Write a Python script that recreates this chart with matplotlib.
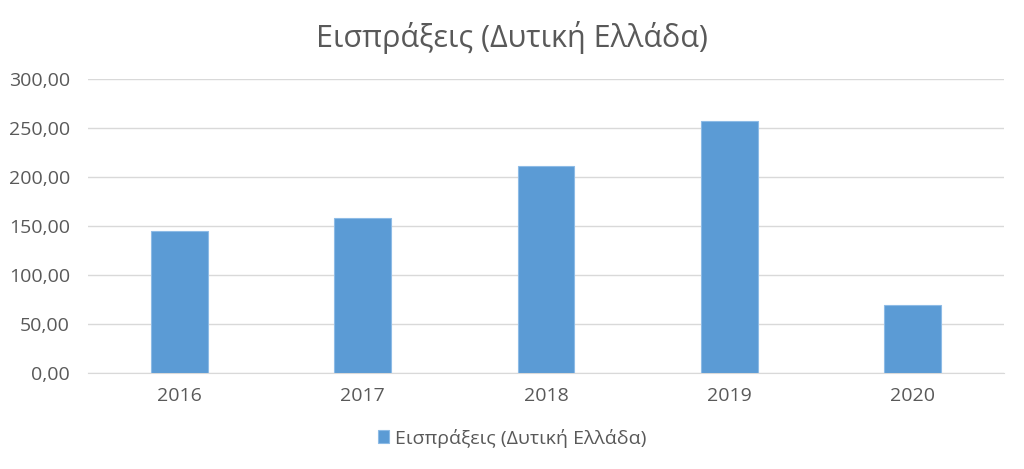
import numpy as np
import matplotlib.pyplot as plt

plt.rcParams['font.family'] = ['Open Sans', 'DejaVu Sans']

# values
years = ['2016', '2017', '2018', '2019', '2020']
receipts = [145.0, 158.5, 211.4, 257.1, 69.5]
label = 'Εισπράξεις (Δυτική Ελλάδα)'

text_col = '#595959'
bar_col = '#5B9BD5'

fig = plt.figure(figsize=(10.24, 4.69), dpi=100)
ax = fig.add_axes([88/1024, (469-373)/469, 916/1024, 294/469])

x = np.arange(len(years))
ax.bar(x, receipts, width=0.31, color=bar_col, edgecolor='#8DBBE6', linewidth=0.8,
       label=label, zorder=3)

ax.set_xlim(-0.5, 4.5)
ax.set_ylim(0, 300)
ax.set_yticks(np.arange(0, 301, 50))
ax.set_yticklabels([f'{v:.2f}'.replace('.', ',') for v in np.arange(0, 301, 50)])
ax.set_xticks(x)
ax.set_xticklabels(years)

ax.grid(axis='y', color='#D9D9D9', linewidth=1, zorder=0)
for s in ['top', 'right', 'left']:
    ax.spines[s].set_visible(False)
ax.spines['bottom'].set_color('#D9D9D9')
ax.tick_params(axis='both', length=0, labelsize=14, colors=text_col)
ax.tick_params(axis='y', pad=13)
ax.tick_params(axis='x', pad=10)

fig.text(0.5, 0.92, label, ha='center', va='center', fontsize=22, color=text_col)

fig.legend(loc='center', bbox_to_anchor=(0.5, (469-438)/469),
           frameon=False, fontsize=14, labelcolor=text_col,
           handlelength=0.6, handleheight=0.6, handletextpad=0.3)

fig.savefig('out.png', dpi=100)
